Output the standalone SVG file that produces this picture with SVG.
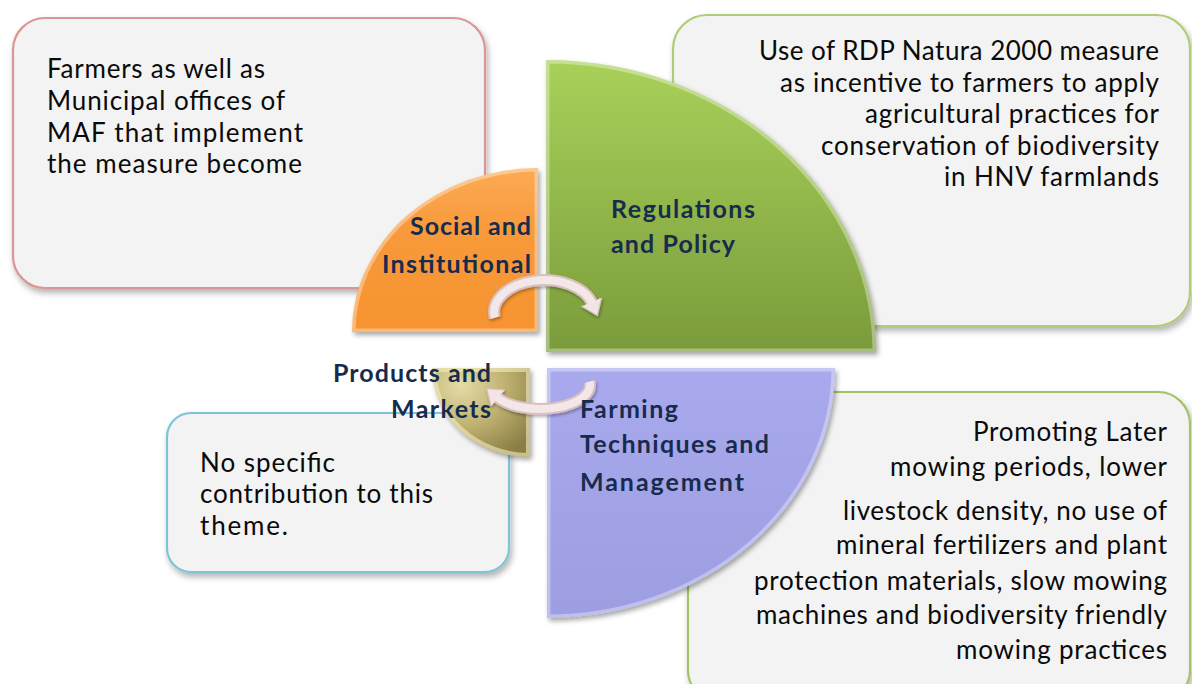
<svg xmlns="http://www.w3.org/2000/svg" width="1192" height="684" viewBox="0 0 1192 684">
<style>
.box{fill:#f3f3f3;stroke-width:2.2}
.body{font-family:Lato,"Liberation Sans",sans-serif;font-size:26px;fill:#0a0a0a}
.lab{font-family:Lato,"Liberation Sans",sans-serif;font-size:25px;font-weight:bold;fill:#172b4d}
.bev{fill:none;stroke:#ffffff;stroke-opacity:.35;stroke-width:7}
.arrOut{fill:none;stroke:#d9bfc1;stroke-width:12}
.arrIn{fill:none;stroke:#f4e7e8;stroke-width:8}
</style>
<defs>
<filter id="sh" x="-10%" y="-10%" width="125%" height="130%">
<feDropShadow dx="2" dy="4" stdDeviation="3" flood-color="#000" flood-opacity=".3"/>
</filter>
<filter id="shq" x="-10%" y="-10%" width="125%" height="125%">
<feDropShadow dx="2" dy="3" stdDeviation="2.5" flood-color="#000" flood-opacity=".35"/>
</filter>
<filter id="sha" x="-20%" y="-20%" width="140%" height="150%">
<feDropShadow dx="1" dy="2" stdDeviation="1.5" flood-color="#000" flood-opacity=".3"/>
</filter>
<linearGradient id="gGreen" x1="0" y1="0" x2="0" y2="1">
<stop offset="0" stop-color="#a9d15a"/><stop offset="1" stop-color="#7a9b3b"/>
</linearGradient>
<linearGradient id="gOrange" x1="0" y1="0" x2="0" y2="1">
<stop offset="0" stop-color="#fbab55"/><stop offset=".4" stop-color="#f8993a"/><stop offset="1" stop-color="#f7932f"/>
</linearGradient>
<linearGradient id="gBlue" x1="0" y1="0" x2="0" y2="1">
<stop offset="0" stop-color="#a9a9ee"/><stop offset="1" stop-color="#9d9de2"/>
</linearGradient>
<radialGradient id="gOlive" cx="0.3" cy="0.2" r="0.9">
<stop offset="0" stop-color="#e4dba6"/><stop offset=".5" stop-color="#bfb271"/><stop offset="1" stop-color="#8a7d44"/>
</radialGradient>
<clipPath id="cO"><path d="M538,332 L352,332 A186 164 0 0 1 538 168 Z"/></clipPath>
<clipPath id="cG"><path d="M546,352 L546,60 A330 292 0 0 1 876 352 Z"/></clipPath>
<clipPath id="cB"><path d="M547,368 L835,368 A288 250 0 0 1 547 618 Z"/></clipPath>
<clipPath id="cV"><path d="M530,368 L530,457 A98 89 0 0 1 432 368 Z"/></clipPath>
<marker id="head" markerUnits="userSpaceOnUse" markerWidth="26" markerHeight="26" refX="2" refY="12" orient="auto">
<path d="M0,1 L15,12 L0,23 Z" fill="#f2e4e5" stroke="#d9bfc1" stroke-width="1.2"/>
</marker>
</defs>

<g id="box-social">
<rect class="box" x="13" y="18" width="472" height="270" rx="32" stroke="#d99694" filter="url(#sh)"/>
<text class="body"><tspan x="47" y="78" textLength="218">Farmers as well as</tspan><tspan x="47" y="110" textLength="238">Municipal offices of</tspan><tspan x="47" y="142" textLength="256">MAF that  implement</tspan><tspan x="47" y="173" textLength="255">the measure become</tspan></text>
</g>
<g id="box-regulations">
<rect class="box" x="673" y="15" width="517" height="311" rx="34" stroke="#b0cc78" filter="url(#sh)"/>
<text class="body" text-anchor="end"><tspan x="1159" y="60" textLength="400">Use of RDP Natura 2000  measure</tspan><tspan x="1159" y="92" textLength="379">as incentive to farmers to apply</tspan><tspan x="1159" y="123" textLength="294">agricultural practices for</tspan><tspan x="1159" y="155" textLength="338">conservation of biodiversity</tspan><tspan x="1159" y="186" textLength="215">in HNV farmlands</tspan></text>
</g>
<g id="box-products">
<rect class="box" x="167" y="413" width="342" height="159" rx="24" stroke="#7fc3d8" filter="url(#sh)"/>
<text class="body"><tspan x="200" y="472" textLength="135">No specific</tspan><tspan x="200" y="503" textLength="233">contribution to this</tspan><tspan x="200" y="535" textLength="88">theme.</tspan></text>
</g>
<g id="box-farming">
<rect class="box" x="688" y="392" width="502" height="310" rx="32" stroke="#a4c266" filter="url(#sh)"/>
<text class="body" text-anchor="end"><tspan x="1167" y="441" textLength="194">Promoting Later</tspan><tspan x="1167" y="476" textLength="277">mowing periods, lower</tspan><tspan x="1167" y="520" textLength="324">livestock density, no use of</tspan><tspan x="1167" y="554" textLength="331">mineral fertilizers and plant</tspan><tspan x="1167" y="590" textLength="413">protection materials, slow mowing</tspan><tspan x="1167" y="624" textLength="411">machines and biodiversity friendly</tspan><tspan x="1167" y="659" textLength="211">mowing practices</tspan></text>
</g>

<g id="q-social">
<path d="M538,332 L352,332 A186 164 0 0 1 538 168 Z" fill="url(#gOrange)" filter="url(#shq)"/>
<path d="M538,332 L352,332 A186 164 0 0 1 538 168 Z" class="bev" clip-path="url(#cO)"/>
</g>
<g id="q-regulations">
<path d="M546,352 L546,60 A330 292 0 0 1 876 352 Z" fill="url(#gGreen)" filter="url(#shq)"/>
<path d="M546,352 L546,60 A330 292 0 0 1 876 352 Z" class="bev" clip-path="url(#cG)"/>
</g>
<g id="q-farming">
<path d="M547,368 L835,368 A288 250 0 0 1 547 618 Z" fill="url(#gBlue)" filter="url(#shq)"/>
<path d="M547,368 L835,368 A288 250 0 0 1 547 618 Z" class="bev" clip-path="url(#cB)"/>
</g>
<g id="q-products">
<path d="M530,368 L530,457 A98 89 0 0 1 432 368 Z" fill="url(#gOlive)" filter="url(#shq)"/>
<path d="M530,368 L530,457 A98 89 0 0 1 432 368 Z" fill="none" stroke="#f4ecc0" stroke-opacity=".6" stroke-width="8" clip-path="url(#cV)"/>
</g>

<g id="connectors" filter="url(#sha)">
<path d="M494.8,317.6 A50 32 0 0 1 592.3 303.7" class="arrOut" marker-end="url(#head)"/>
<path d="M494.8,317.6 A50 32 0 0 1 592.3 303.7" class="arrIn"/>
<path d="M589.5,381.7 A50 24 0 0 1 496.7 397" class="arrOut" marker-end="url(#head)"/>
<path d="M589.5,381.7 A50 24 0 0 1 496.7 397" class="arrIn"/>
</g>

<g id="labels">
<text class="lab" text-anchor="end"><tspan x="531" y="235" textLength="121">Social and</tspan><tspan x="531" y="273" textLength="149">Institutional</tspan></text>
<text class="lab"><tspan x="611" y="218" textLength="144">Regulations</tspan><tspan x="611" y="253" textLength="124">and Policy</tspan></text>
<text class="lab" text-anchor="end"><tspan x="491" y="382" textLength="158">Products and</tspan><tspan x="491" y="418" textLength="100">Markets</tspan></text>
<text class="lab"><tspan x="580" y="418" textLength="98">Farming</tspan><tspan x="580" y="453" textLength="189">Techniques and</tspan><tspan x="580" y="491" textLength="164">Management</tspan></text>
</g>
</svg>
